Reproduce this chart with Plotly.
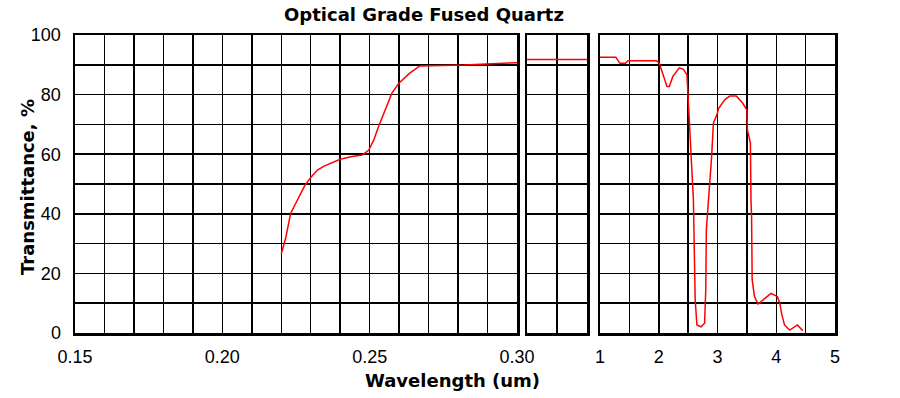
import plotly.graph_objects as go

W, H = 900, 398

# UV region (0.15 - 0.30 um)
uv_wl = [0.2200, 0.2216, 0.2232, 0.2254, 0.2281, 0.2302, 0.2323, 0.2345, 0.2400, 0.2440,
         0.2475, 0.2497, 0.2514, 0.2530, 0.2553, 0.2575, 0.2599, 0.2635, 0.2670, 0.2820,
         0.2953, 0.3000]
uv_t = [26.5, 32.3, 40.2, 44.6, 49.7, 52.4, 54.7, 56.0, 58.3, 59.2,
        59.7, 61.4, 64.8, 69.2, 74.8, 80.4, 83.8, 87.1, 89.6, 89.9,
        90.5, 90.7]

# visible region (0.30 - 1.0 um)
vis_wl = [0.30, 1.00]
vis_t = [91.8, 91.8]

# IR region (1 - 5 um)
ir_wl = [1.00, 1.27, 1.34, 1.43, 1.48, 1.96, 2.01, 2.07, 2.14, 2.18, 2.24, 2.35, 2.42, 2.48,
         2.50, 2.53, 2.56, 2.59, 2.60, 2.62, 2.65, 2.72, 2.78, 2.80, 2.81, 2.85, 2.87, 2.90,
         2.93, 2.99, 3.02, 3.13, 3.21, 3.32, 3.43, 3.50, 3.51, 3.56, 3.57, 3.58, 3.59, 3.63,
         3.69, 3.80, 3.91, 4.02, 4.06, 4.09, 4.14, 4.23, 4.29, 4.36, 4.45]
ir_t = [92.5, 92.5, 90.5, 90.5, 91.4, 91.4, 90.5, 87.1, 82.7, 82.7, 86.1, 89.0, 88.5, 86.6,
        79.3, 70.4, 59.2, 44.6, 33.5, 11.1, 2.7, 2.1, 3.3, 14.4, 34.6, 44.6, 52.4, 59.2,
        70.4, 73.2, 75.4, 78.4, 79.5, 79.5, 77.1, 74.8, 68.1, 63.7, 44.6, 39.0, 17.8, 12.2,
        9.7, 11.6, 13.3, 12.2, 10.0, 6.6, 2.7, 1.0, 1.8, 2.7, 0.8]

uv_ticks = [0.15, 0.20, 0.25, 0.30]
uv_ticktext = ["0.15", "0.20", "0.25", "0.30"]
ir_ticks = [1, 2, 3, 4, 5]
y_ticks = [0, 20, 40, 60, 80, 100]

TITLE = "Optical Grade Fused Quartz"
XTITLE = "Wavelength (um)"
YTITLE = "Transmittance, %"


def px_x(p):
    return p / W


def px_y(p):
    return 1 - p / H


LINE = dict(color="#ff0000", width=1.5)
TICKFONT = dict(family="Liberation Sans, Arial, sans-serif", size=18, color="#000000")
BOLD = dict(family="DejaVu Sans, Arial, sans-serif", size=18, color="#000000", weight="bold")

fig = go.Figure()
fig.add_trace(go.Scatter(x=uv_wl, y=uv_t, mode="lines", line=LINE, xaxis="x", yaxis="y",
                         showlegend=False, hoverinfo="skip"))
fig.add_trace(go.Scatter(x=vis_wl, y=vis_t, mode="lines", line=LINE, xaxis="x2", yaxis="y2",
                         showlegend=False, hoverinfo="skip"))
fig.add_trace(go.Scatter(x=ir_wl, y=ir_t, mode="lines", line=LINE, xaxis="x3", yaxis="y3",
                         showlegend=False, hoverinfo="skip"))

frame = dict(showline=True, mirror=True, linecolor="#000000", linewidth=2.5,
             ticks="", zeroline=False, gridcolor="#000000", gridwidth=1.5,
             fixedrange=True, automargin=False)

ydom = [px_y(333), px_y(35)]
yax = dict(frame, range=[0, 100], tickmode="array", tickvals=y_ticks,
           minor=dict(dtick=10, showgrid=True, gridcolor="#000000", gridwidth=1.5, ticks=""),
           domain=ydom)

fig.update_layout(
    template="none",
    width=W, height=H,
    margin=dict(l=0, r=0, t=0, b=0, pad=0),
    paper_bgcolor="#ffffff", plot_bgcolor="#ffffff",
    hovermode=False,
    xaxis=dict(frame, domain=[px_x(75), px_x(517)], range=[0.15, 0.30],
               tickmode="array", tickvals=uv_ticks, ticktext=uv_ticktext,
               minor=dict(dtick=0.01, tick0=0.15, showgrid=True, gridcolor="#000000",
                          gridwidth=1.5, ticks=""),
               tickfont=TICKFONT, ticklabelstandoff=6, anchor="y"),
    xaxis2=dict(frame, domain=[px_x(527), px_x(587)], range=[0.30, 1.0],
                tickmode="array", tickvals=[0.65], showticklabels=False, anchor="y2"),
    xaxis3=dict(frame, domain=[px_x(600), px_x(835)], range=[1, 5],
                tickmode="array", tickvals=ir_ticks,
                minor=dict(dtick=0.5, tick0=1, showgrid=True, gridcolor="#000000",
                           gridwidth=1.5, ticks=""),
                tickfont=TICKFONT, ticklabelstandoff=6, anchor="y3"),
    yaxis=dict(yax, tickfont=TICKFONT, ticklabelstandoff=8, anchor="x"),
    yaxis2=dict(yax, showticklabels=False, anchor="x2"),
    yaxis3=dict(yax, showticklabels=False, anchor="x3"),
    annotations=[
        dict(text=TITLE, xref="paper", yref="paper", x=px_x(424), y=px_y(14),
             xanchor="center", yanchor="middle", showarrow=False, font=BOLD),
        dict(text=XTITLE, xref="paper", yref="paper", x=px_x(452), y=px_y(380),
             xanchor="center", yanchor="middle", showarrow=False, font=BOLD),
        dict(text=YTITLE, xref="paper", yref="paper", x=px_x(27), y=px_y(187),
             xanchor="center", yanchor="middle", showarrow=False, textangle=-90, font=BOLD),
    ],
)

fig.write_html(
    "out.html",
    config={"displayModeBar": False, "staticPlot": True},
    post_script="document.body.style.margin='0';document.body.style.overflow='hidden';",
)
